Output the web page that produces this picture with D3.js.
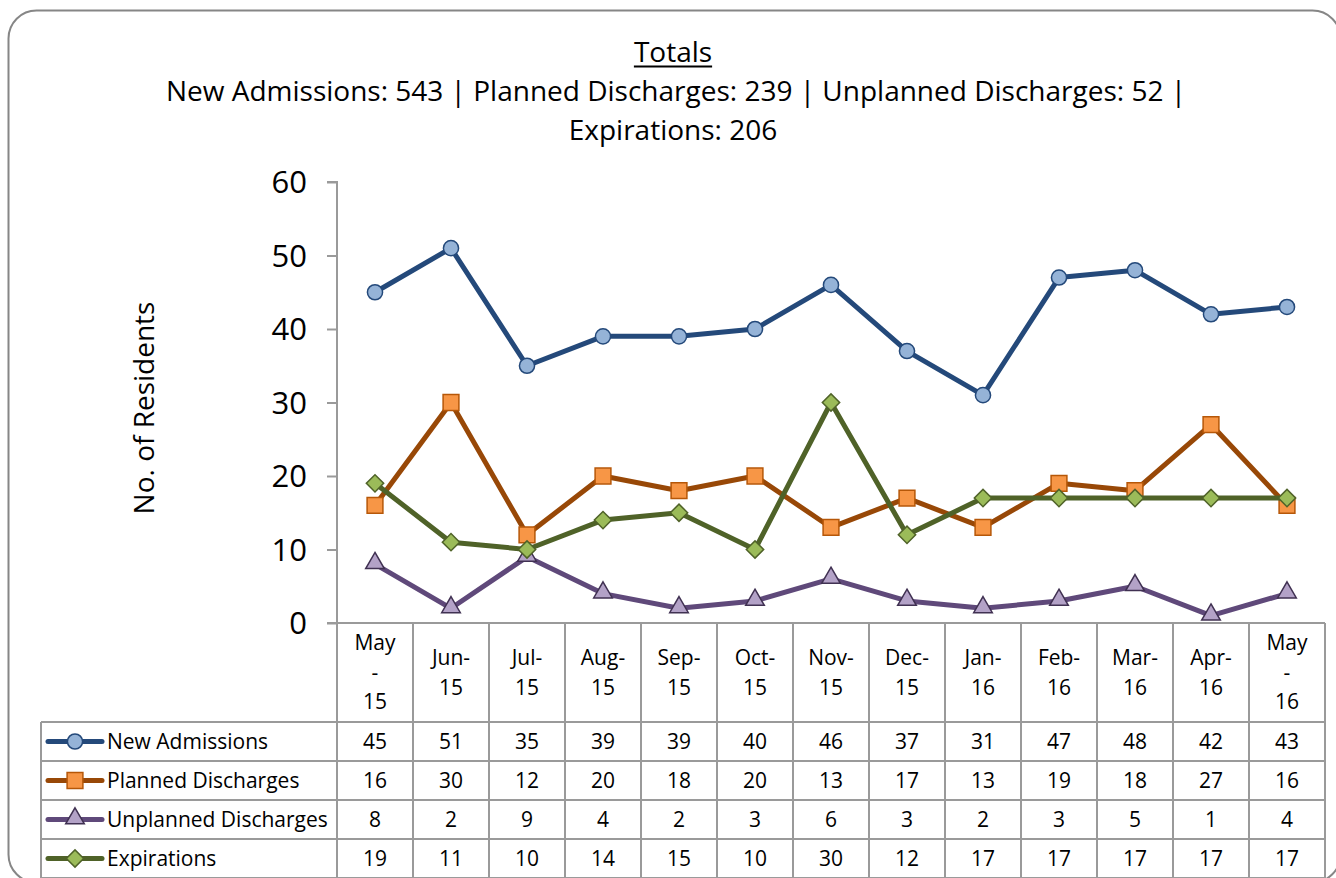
<!DOCTYPE html>
<html>
<head>
<meta charset="utf-8">
<script src="https://cdn.jsdelivr.net/npm/d3@7"></script>
<style>
  body { margin: 0; background: #fff; }
  svg { display: block; font-family: "Open Sans", sans-serif; }
</style>
</head>
<body>
<svg id="chart" width="1336" height="878"></svg>
<script>
const width = 1336;
const height = 878;

// data
const months = ["May-15", "Jun-15", "Jul-15", "Aug-15", "Sep-15", "Oct-15", "Nov-15",
  "Dec-15", "Jan-16", "Feb-16", "Mar-16", "Apr-16", "May-16"];
const tickLabels = [["May", "-", "15"], ["Jun-", "15"], ["Jul-", "15"], ["Aug-", "15"],
  ["Sep-", "15"], ["Oct-", "15"], ["Nov-", "15"], ["Dec-", "15"], ["Jan-", "16"],
  ["Feb-", "16"], ["Mar-", "16"], ["Apr-", "16"], ["May", "-", "16"]];
const newAdmissions = [45, 51, 35, 39, 39, 40, 46, 37, 31, 47, 48, 42, 43];
const plannedDischarges = [16, 30, 12, 20, 18, 20, 13, 17, 13, 19, 18, 27, 16];
const unplannedDischarges = [8, 2, 9, 4, 2, 3, 6, 3, 2, 3, 5, 1, 4];
const expirations = [19, 11, 10, 14, 15, 10, 30, 12, 17, 17, 17, 17, 17];
const yTicks = [0, 10, 20, 30, 40, 50, 60];

const series = [
  { name: "New Admissions", values: newAdmissions, line: "#24497A", fill: "#95B3D7", stroke: "#24497A", shape: "circle" },
  { name: "Planned Discharges", values: plannedDischarges, line: "#984807", fill: "#F79646", stroke: "#B65708", shape: "square" },
  { name: "Unplanned Discharges", values: unplannedDischarges, line: "#5F497A", fill: "#B3A2C7", stroke: "#403152", shape: "triangle" },
  { name: "Expirations", values: expirations, line: "#4F6228", fill: "#9BBB59", stroke: "#4F6228", shape: "diamond" }
];

const svg = d3.select("#chart");
const gridColor = "#9a9a9a";

// outer frame
svg.append("rect")
  .attr("x", 8.5).attr("y", 10.5)
  .attr("width", 1332).attr("height", 872)
  .attr("rx", 28)
  .attr("fill", "#fff")
  .attr("stroke", "#868686")
  .attr("stroke-width", 2);

// title
const title = svg.append("text")
  .attr("text-anchor", "middle")
  .attr("font-size", 28)
  .attr("fill", "#000");
const totalsT = title.append("tspan").attr("x", 673).attr("y", 62).text("Totals");
title.append("tspan").attr("x", 676).attr("y", 101)
  .text(`New Admissions: ${d3.sum(newAdmissions)} | Planned Discharges: ${d3.sum(plannedDischarges)} | Unplanned Discharges: ${d3.sum(unplannedDischarges)} |`);
title.append("tspan").attr("x", 673).attr("y", 140)
  .text(`Expirations: ${d3.sum(expirations)}`);
const tw = totalsT.node().getComputedTextLength();
svg.append("line")
  .attr("x1", 673 - tw / 2).attr("x2", 673 + tw / 2).attr("y1", 66.5).attr("y2", 66.5)
  .attr("stroke", "#000").attr("stroke-width", 2);

// scales
const x = d3.scaleBand().domain(months).range([337, 1325]).padding(0);
const cx = d => x(d) + x.bandwidth() / 2;
const y = d3.scaleLinear().domain([0, 60]).range([623, 182]);

// y axis
const yAxis = svg.append("g")
  .attr("transform", "translate(337,0)")
  .call(d3.axisLeft(y).tickValues(yTicks).tickSize(10).tickPadding(20));
yAxis.select(".domain").attr("stroke", gridColor).attr("stroke-width", 2)
  .attr("d", `M-10,${y(60)}H0V${y(0)}`);
yAxis.selectAll(".tick line").attr("stroke", gridColor).attr("stroke-width", 2);
yAxis.selectAll(".tick text")
  .attr("font-size", 31).attr("font-family", "'Open Sans', sans-serif").attr("fill", "#000")
  .attr("dy", "0.35em");

svg.append("text")
  .attr("transform", "translate(154,408) rotate(-90)")
  .attr("text-anchor", "middle")
  .attr("font-size", 28)
  .text("No. of Residents");

// data table
const headerTop = 623, headerBottom = 722, rowH = 39;
const tableLeft = 41, tableRight = 1325;
const table = svg.append("g").attr("stroke", gridColor).attr("stroke-width", 2);
table.append("line").attr("x1", 327).attr("x2", tableRight).attr("y1", headerTop).attr("y2", headerTop);
x.domain().concat([null]).forEach(m => {
  const xx = m === null ? tableRight : x(m);
  table.append("line").attr("x1", xx).attr("x2", xx).attr("y1", headerTop).attr("y2", headerBottom + rowH * 4);
});
d3.range(series.length + 1).forEach(i => {
  const yy = headerBottom + rowH * i;
  table.append("line").attr("x1", tableLeft).attr("x2", tableRight).attr("y1", yy).attr("y2", yy);
});
table.append("line").attr("x1", tableLeft).attr("x2", tableLeft)
  .attr("y1", headerBottom).attr("y2", headerBottom + rowH * 4);

// header labels
const lineGap = 29.5;
const tableFont = 21;
months.forEach((m, i) => {
  const lines = tickLabels[i];
  const t = svg.append("text").attr("text-anchor", "middle").attr("font-size", tableFont);
  lines.forEach((s, j) => {
    t.append("tspan")
      .attr("x", cx(m))
      .attr("y", 672.5 + (j - (lines.length - 1) / 2) * lineGap)
      .attr("dy", "0.35em")
      .text(s);
  });
});

// marker shapes
const symbolFor = {
  circle: d3.symbol(d3.symbolCircle, 180),
  square: d3.symbol(d3.symbolSquare, 250),
  triangle: d3.symbol(d3.symbolTriangle, 150),
  diamond: d3.symbol(d3.symbolSquare, 150)
};
function marker(sel, s) {
  sel.append("path")
    .attr("d", symbolFor[s.shape]())
    .attr("fill", s.fill)
    .attr("stroke", s.stroke)
    .attr("stroke-width", 1.5)
    .attr("transform", s.shape === "diamond" ? "rotate(45)" : s.shape === "triangle" ? "translate(0,-1)" : null);
}

// rows: legend keys + values
series.forEach((s, i) => {
  const cy = headerBottom + rowH * i + rowH / 2;
  svg.append("line")
    .attr("x1", 48).attr("x2", 102).attr("y1", cy).attr("y2", cy)
    .attr("stroke", s.line).attr("stroke-width", 5).attr("stroke-linecap", "round");
  marker(svg.append("g").attr("transform", `translate(75,${cy})`), s);
  svg.append("text")
    .attr("x", 107).attr("y", cy).attr("dy", "0.35em")
    .attr("font-size", tableFont)
    .text(s.name);
  svg.append("g").selectAll("text")
    .data(s.values)
    .join("text")
    .attr("x", (d, j) => cx(months[j]))
    .attr("y", cy).attr("dy", "0.35em")
    .attr("text-anchor", "middle")
    .attr("font-size", tableFont)
    .text(d => d);
});

// lines and markers
const line = d3.line().x((d, j) => cx(months[j])).y(d => y(d));
series.forEach(s => {
  const g = svg.append("g");
  g.append("path")
    .attr("d", line(s.values))
    .attr("fill", "none")
    .attr("stroke", s.line)
    .attr("stroke-width", 5)
    .attr("stroke-linejoin", "round");
  s.values.forEach((v, j) => {
    marker(g.append("g").attr("transform", `translate(${cx(months[j])},${y(v)})`), s);
  });
});
</script>
</body>
</html>
